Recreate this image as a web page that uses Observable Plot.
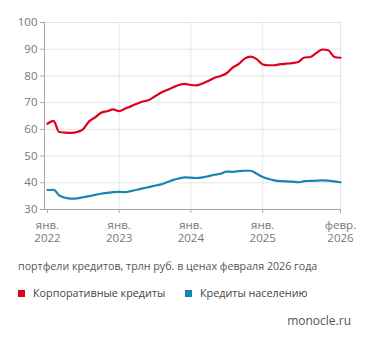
<!DOCTYPE html>
<html>
<head>
<meta charset="utf-8">
<script src="https://cdn.jsdelivr.net/npm/d3@7"></script>
<script src="https://cdn.jsdelivr.net/npm/@observablehq/plot@0.6"></script>
<style>
  html, body { margin: 0; padding: 0; background: #fff; }
  body { width: 371px; height: 343px; position: relative; font-family: "Open Sans", sans-serif; overflow: hidden; }
  #chart { position: absolute; left: 0; top: 0; }
  .caption { position: absolute; left: 18px; top: 258px; font-size: 10.7px; line-height: 16px; color: #555; white-space: nowrap; }
  .legend { position: absolute; left: 18px; top: 286px; font-size: 10.8px; line-height: 14px; color: #444; white-space: nowrap; }
  .legend .item { position: absolute; top: 0; }
  .legend .sw { position: absolute; top: 3.5px; width: 7px; height: 7px; }
  .legend .lbl { position: absolute; top: 0; }
  .source { position: absolute; right: 20px; top: 313px; font-size: 12px; line-height: 16px; color: #555; }
</style>
</head>
<body>
<div id="chart"></div>
<div class="caption" id="caption"></div>
<div class="legend" id="legend"></div>
<div class="source" id="source"></div>
<script>
// Monthly data, Jan 2022 – Feb 2026, trillion rubles in Feb-2026 prices
const months = [
  "2022-01","2022-02","2022-03","2022-04","2022-05","2022-06","2022-07","2022-08","2022-09","2022-10","2022-11","2022-12",
  "2023-01","2023-02","2023-03","2023-04","2023-05","2023-06","2023-07","2023-08","2023-09","2023-10","2023-11","2023-12",
  "2024-01","2024-02","2024-03","2024-04","2024-05","2024-06","2024-07","2024-08","2024-09","2024-10","2024-11","2024-12",
  "2025-01","2025-02","2025-03","2025-04","2025-05","2025-06","2025-07","2025-08","2025-09","2025-10","2025-11","2025-12",
  "2026-01","2026-02"
];
const corporate = [
  62.1, 63.2, 59.0, 58.8, 58.7, 59.0, 60.0, 63.0, 64.5, 66.2, 66.8, 67.5,
  66.8, 67.8, 68.6, 69.6, 70.4, 71.0, 72.3, 73.7, 74.7, 75.7, 76.6, 77.0,
  76.6, 76.5, 77.2, 78.2, 79.3, 80.0, 81.0, 83.1, 84.5, 86.5, 87.2, 86.3,
  84.3, 84.0, 84.0, 84.4, 84.6, 84.8, 85.2, 86.9, 87.1, 88.6, 89.9, 89.6,
  87.1, 86.8
];
const retail = [
  37.3, 37.4, 35.3, 34.4, 34.1, 34.2, 34.6, 35.0, 35.5, 35.9, 36.2, 36.5,
  36.6, 36.5, 36.9, 37.4, 37.9, 38.4, 38.9, 39.4, 40.2, 41.0, 41.6, 42.0,
  41.9, 41.8, 42.0, 42.5, 43.0, 43.4, 44.2, 44.1, 44.4, 44.5, 44.5, 43.4,
  42.2, 41.4, 40.9, 40.6, 40.5, 40.4, 40.2, 40.6, 40.7, 40.8, 40.9, 40.8,
  40.5, 40.2
];
const seriesNames = ["Корпоративные кредиты", "Кредиты населению"];
const seriesColors = ["#e0001b", "#1785b3"];
const xTickDates = ["2022-01", "2023-01", "2024-01", "2025-01", "2026-02"];
const xTickLabels = ["янв.\n2022", "янв.\n2023", "янв.\n2024", "янв.\n2025", "февр.\n2026"];
const yTicks = [30, 40, 50, 60, 70, 80, 90, 100];
const captionText = "портфели кредитов, трлн руб. в ценах февраля 2026 года";
const sourceText = "monocle.ru";

const parse = s => new Date(s + "-01T00:00:00Z");
const rows = [];
months.forEach((m, i) => {
  rows.push({date: parse(m), value: corporate[i], series: seriesNames[0]});
  rows.push({date: parse(m), value: retail[i], series: seriesNames[1]});
});
const xTicks = xTickDates.map(parse);
const labelOf = new Map(xTicks.map((d, i) => [+d, xTickLabels[i]]));

const gridColor = "#e6e6e6";
const axisColor = "#a8a8a8";

const chart = Plot.plot({
  width: 371,
  height: 250,
  marginLeft: 44,
  marginRight: 31,
  marginTop: 22,
  marginBottom: 41,
  insetLeft: 3,
  style: {fontFamily: "'Open Sans', sans-serif", fontSize: "11px", color: "#777", background: "#fff"},
  x: {type: "utc", domain: [parse(months[0]), parse(months[months.length - 1])]},
  y: {domain: [30, 100]},
  color: {domain: seriesNames, range: seriesColors},
  marks: [
    Plot.gridY(yTicks, {stroke: gridColor, strokeOpacity: 1}),
    Plot.ruleX(xTicks.slice(1), {stroke: gridColor, strokeOpacity: 1}),
    Plot.ruleY([30], {stroke: axisColor}),
    Plot.ruleX([parse(months[0])], {stroke: axisColor, dx: -3}),
    Plot.axisY(yTicks, {tickSize: 4, tickPadding: 3, stroke: axisColor, fill: "#777", label: null, fontSize: 11.5}),
    Plot.axisX(xTicks, {tickSize: 4, tickPadding: 6, stroke: axisColor, fill: "#777", label: null, fontSize: 11.5, lineHeight: 1.12, tickFormat: d => labelOf.get(+d)}),
    Plot.line(rows, {x: "date", y: "value", z: "series", stroke: "series", strokeWidth: 2.2, curve: "monotone-x"})
  ]
});
document.getElementById("chart").appendChild(chart);

document.getElementById("caption").textContent = captionText;
document.getElementById("source").textContent = sourceText;
const legend = document.getElementById("legend");
const legendX = [0, 167];
seriesNames.forEach((name, i) => {
  const item = document.createElement("div");
  item.className = "item";
  item.style.left = legendX[i] + "px";
  const sw = document.createElement("div");
  sw.className = "sw";
  sw.style.left = "0px";
  sw.style.background = seriesColors[i];
  const lbl = document.createElement("div");
  lbl.className = "lbl";
  lbl.style.left = "15px";
  lbl.textContent = name;
  item.appendChild(sw);
  item.appendChild(lbl);
  legend.appendChild(item);
});
</script>
</body>
</html>
